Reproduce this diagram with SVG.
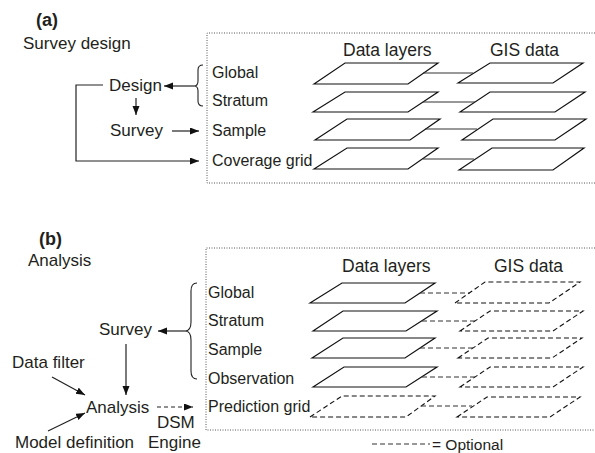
<svg xmlns="http://www.w3.org/2000/svg" width="595" height="453" viewBox="0 0 595 453">
<style>
text{font-family:"Liberation Sans",Arial,Helvetica,sans-serif;fill:#231f20}
.t{font-size:17px}
.b{font-size:18px;font-weight:bold}
.l{font-size:16px}
.h{font-size:17.5px}
.o{font-size:15.5px}
.box{fill:none;stroke:#555;stroke-width:1;stroke-dasharray:1 1.5}
.p{fill:#fff;stroke:#111;stroke-width:1.2}
.pd{fill:none;stroke:#111;stroke-width:1.1;stroke-dasharray:5 3}
.c{fill:none;stroke:#333;stroke-width:1.2}
.cd{fill:none;stroke:#333;stroke-width:1.1;stroke-dasharray:5 3}
.a{fill:none;stroke:#222;stroke-width:1.2}
.ad{fill:none;stroke:#222;stroke-width:1.2;stroke-dasharray:4 3}
.br{fill:none;stroke:#222;stroke-width:1.1}
</style>
<defs>
<marker id="ah" markerUnits="userSpaceOnUse" markerWidth="10" markerHeight="8" refX="9" refY="3.5" orient="auto">
<path d="M0,0 L9,3.5 L0,7 z" fill="#111"/>
</marker>
</defs>

<g id="panel-a">
<text class="b" x="36" y="26">(a)</text>
<text class="t" x="23" y="49">Survey design</text>
<path class="box" d="M595,33 H207 V183 H595"/>
<text class="h" x="343" y="56">Data layers</text>
<text class="h" x="490" y="56">GIS data</text>
</g>

<g id="a-design"><text class="t" x="109" y="91">Design</text></g>
<g id="a-survey"><text class="t" x="110" y="136">Survey</text></g>
<g id="a-brace"><path class="br" d="M203,65 Q198,65 198,70 V81 Q198,86 194,86 Q198,86 198,91 V101 Q198,106 203,106"/></g>

<g id="a-global">
<text class="l" x="212" y="78">Global</text>
<path class="p" d="M314,84 L345,63 L438,63 L408,84 Z"/>
<path class="p" d="M458,83 L490,63 L583,63 L553,83 Z"/>
</g>
<g id="a-stratum">
<text class="l" x="212" y="106">Stratum</text>
<path class="p" d="M313,112 L345,92 L438,92 L408,112 Z"/>
<path class="p" d="M460,112 L490,92 L585,92 L555,112 Z"/>
</g>
<g id="a-sample">
<text class="l" x="212" y="136">Sample</text>
<path class="p" d="M315,140 L347,119 L440,119 L410,140 Z"/>
<path class="p" d="M462,140 L493,119 L586,119 L555,140 Z"/>
</g>
<g id="a-coverage">
<text class="l" x="212" y="166">Coverage grid</text>
<path class="p" d="M314,169 L347,148 L438,148 L408,169 Z"/>
<path class="p" d="M459,170 L492,148 L584,148 L553,170 Z"/>
</g>

<g id="panel-b">
<text class="b" x="39" y="245">(b)</text>
<text class="t" x="28" y="266">Analysis</text>
<path class="box" d="M595,248 H206 V430 H595"/>
<text class="h" x="342" y="272">Data layers</text>
<text class="h" x="494" y="272">GIS data</text>
</g>

<g id="b-survey"><text class="t" x="99" y="335">Survey</text></g>
<g id="b-analysis"><text class="t" x="86" y="413">Analysis</text></g>
<g id="b-datafilter"><text class="t" x="12" y="368">Data filter</text></g>
<g id="b-model"><text class="t" x="15" y="448">Model definition</text></g>
<g id="b-dsm"><text class="t" x="157" y="428">DSM</text><text class="t" x="148" y="448">Engine</text></g>
<g id="b-brace"><path class="br" d="M197,283 Q191,283 191,291 V322 Q191,331 185,331 Q191,331 191,340 V371 Q191,379 197,379"/></g>

<g id="b-global">
<text class="l" x="208" y="298">Global</text>
<path class="p" d="M310,303 L342,283 L435,283 L405,303 Z"/>
<path class="pd" d="M455,303 L485,282 L580,282 L549,303 Z"/>
</g>
<g id="b-stratum">
<text class="l" x="208" y="326">Stratum</text>
<path class="p" d="M313,331 L343,311 L437,311 L406,331 Z"/>
<path class="pd" d="M460,331 L490,311 L583,311 L553,331 Z"/>
</g>
<g id="b-sample">
<text class="l" x="208" y="355">Sample</text>
<path class="p" d="M312,358 L343,338 L435,338 L405,358 Z"/>
<path class="pd" d="M458,358 L488,338 L582,338 L552,358 Z"/>
</g>
<g id="b-observation">
<text class="l" x="208" y="384">Observation</text>
<path class="p" d="M313,387 L344,367 L437,367 L406,387 Z"/>
<path class="pd" d="M460,387 L490,367 L583,367 L553,387 Z"/>
</g>
<g id="b-prediction">
<text class="l" x="208" y="412">Prediction grid</text>
<path class="pd" d="M310,417 L342,396 L435,396 L406,417 Z"/>
<path class="pd" d="M457,417 L487,397 L580,397 L550,417 Z"/>
</g>

<g id="legend">
<line class="cd" x1="372" y1="444" x2="430" y2="444"/>
<text class="o" x="432" y="450">= Optional</text>
</g>

<g id="connectors">
<line class="a" x1="194" y1="86" x2="164" y2="86" marker-end="url(#ah)"/>
<line class="a" x1="136" y1="98" x2="136" y2="115" marker-end="url(#ah)"/>
<line class="a" x1="172" y1="131" x2="199" y2="131" marker-end="url(#ah)"/>
<path class="a" d="M103,85 H76 V161 H199" marker-end="url(#ah)"/>
<line class="c" x1="423" y1="73" x2="473" y2="73"/>
<line class="c" x1="423" y1="102" x2="475" y2="102"/>
<line class="c" x1="425" y1="129" x2="477" y2="129"/>
<line class="c" x1="423" y1="159" x2="474" y2="159"/>

<line class="a" x1="185" y1="331" x2="158" y2="331" marker-end="url(#ah)"/>
<line class="a" x1="126" y1="344" x2="126" y2="395" marker-end="url(#ah)"/>
<line class="a" x1="52" y1="377" x2="85" y2="395" marker-end="url(#ah)"/>
<line class="a" x1="48" y1="431" x2="85" y2="413" marker-end="url(#ah)"/>
<line class="ad" x1="157" y1="407" x2="193" y2="407" marker-end="url(#ah)"/>
<line class="cd" x1="420" y1="293" x2="470" y2="293"/>
<line class="cd" x1="422" y1="321" x2="475" y2="321"/>
<line class="cd" x1="420" y1="348" x2="473" y2="348"/>
<line class="cd" x1="422" y1="377" x2="475" y2="377"/>
<line class="cd" x1="421" y1="406" x2="472" y2="406"/>
</g>
</svg>
